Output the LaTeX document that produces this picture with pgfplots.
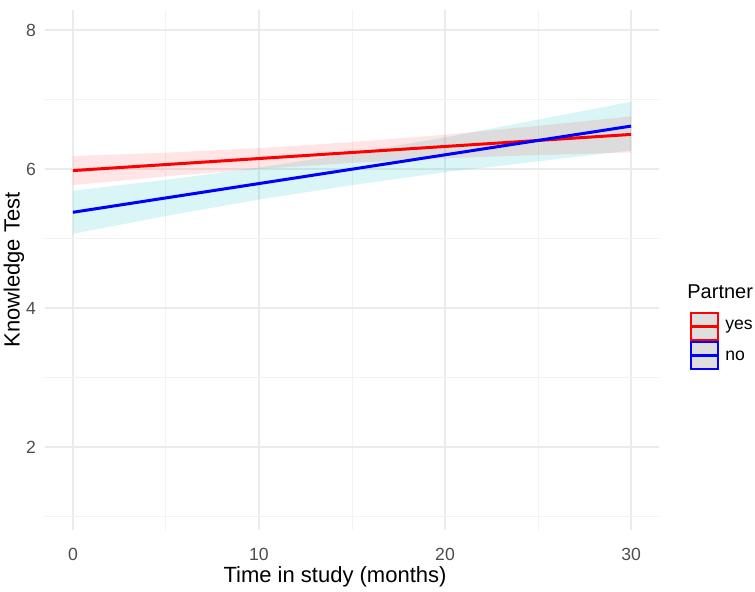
\documentclass[border=0pt]{standalone}
\usepackage{pgfplots}
\pgfplotsset{compat=1.18}
\usepackage{fontspec}
\setmainfont{Liberation Sans}
\definecolor{gridmaj}{RGB}{235,235,235}
\definecolor{gridmin}{RGB}{242,242,242}
\definecolor{ticktxt}{RGB}{77,77,77}
\definecolor{ribcyan}{RGB}{0,191,196}
\definecolor{keygrey}{RGB}{222,222,222}
\begin{document}
\begin{tikzpicture}
\path[use as bounding box] (-22.5pt,-31pt) rectangle (355pt,265pt);
\begin{axis}[
  scale only axis, width=307pt, height=260pt,
  at={(0,0)}, anchor=south west,
  xmin=-1.5, xmax=31.5, ymin=0.81, ymax=8.29,
  xtick={0,10,20,30}, ytick={2,4,6,8},
  minor xtick={5,15,25}, minor ytick={1,3,5,7},
  grid=both,
  major grid style={draw=gridmaj, line width=1pt},
  minor grid style={draw=gridmin, line width=0.5pt},
  axis line style={draw=none},
  major tick length=0pt, minor tick length=0pt,
  tick style={draw=none},
  /pgf/number format/assume math mode=true,
  tick label style={font=\fontsize{8.8}{10}\selectfont, text=ticktxt},
  xticklabel style={yshift=-5.5pt},
  yticklabel style={xshift=-1pt},
  xlabel={Time in study (months)},
  ylabel={Knowledge Test},
  label style={font=\fontsize{11}{13}\selectfont},
  xlabel style={at={(axis description cs:0,0)}, anchor=center, xshift=145pt, yshift=-23.5pt},
  ylabel style={at={(axis description cs:0,0.5)}, anchor=center, yshift=15.5pt},
  clip=true,
]
% ribbon blue (no)
\addplot[draw=none, fill=ribcyan, fill opacity=0.15] coordinates {
 (0,5.69) (5,5.847) (10,6.023) (15,6.23) (20,6.457) (25,6.713) (30,6.97)
 (30,6.27) (25,6.113) (20,5.957) (15,5.77) (10,5.563) (5,5.327) (0,5.07)
} -- cycle;
% ribbon red (yes)
\addplot[draw=none, fill=red, fill opacity=0.1] coordinates {
 (0,6.19) (5,6.237) (10,6.303) (15,6.39) (20,6.497) (25,6.623) (30,6.76)
 (30,6.24) (25,6.203) (20,6.157) (15,6.09) (10,6.003) (5,5.897) (0,5.77)
} -- cycle;
% lines
\addplot[red, line width=1.5pt] coordinates {(0,5.98) (30,6.50)};
\addplot[blue, line width=1.5pt] coordinates {(0,5.38) (30,6.62)};
\end{axis}
% legend
\node[anchor=west, font=\fontsize{10}{12}\selectfont, inner sep=0pt] at (321pt,119pt) {Partner};
\draw[red, line width=1pt, fill=keygrey] (323pt,95pt) rectangle (336.5pt,108.5pt);
\draw[red, line width=1.5pt] (323pt,101.75pt) -- (336.5pt,101.75pt);
\draw[blue, line width=1pt, fill=keygrey] (323pt,80.5pt) rectangle (336.5pt,94pt);
\draw[blue, line width=1.5pt] (323pt,87.25pt) -- (336.5pt,87.25pt);
\node[anchor=west, font=\fontsize{8.8}{10}\selectfont, inner sep=0pt] at (340pt,101.75pt) {yes};
\node[anchor=west, font=\fontsize{8.8}{10}\selectfont, inner sep=0pt] at (340pt,87.25pt) {no};
\end{tikzpicture}
\end{document}
